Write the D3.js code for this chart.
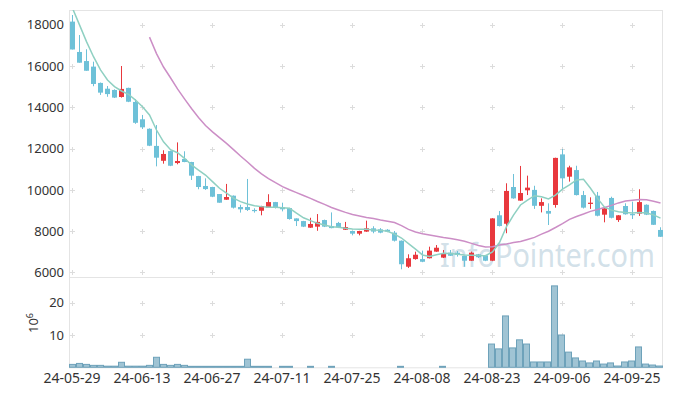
<!DOCTYPE html>
<html><head><meta charset="utf-8">
<script src="https://cdn.jsdelivr.net/npm/d3@7"></script>
<style>body{margin:0;background:#fff}svg{display:block}text{font-family:"Noto Sans",sans-serif}</style>
</head><body><svg id="c" width="673" height="396"></svg>
<script>
const dates = ["24-05-29","24-05-30","24-05-31","24-06-03","24-06-04","24-06-05","24-06-07","24-06-10","24-06-11","24-06-12",
"24-06-13","24-06-14","24-06-17","24-06-18","24-06-19","24-06-20","24-06-21","24-06-24","24-06-25","24-06-26",
"24-06-27","24-06-28","24-07-01","24-07-02","24-07-03","24-07-04","24-07-05","24-07-08","24-07-09","24-07-10",
"24-07-11","24-07-12","24-07-15","24-07-16","24-07-17","24-07-18","24-07-19","24-07-22","24-07-23","24-07-24",
"24-07-25","24-07-26","24-07-29","24-07-30","24-07-31","24-08-01","24-08-02","24-08-05","24-08-06","24-08-07",
"24-08-08","24-08-09","24-08-12","24-08-13","24-08-14","24-08-16","24-08-19","24-08-20","24-08-21","24-08-22",
"24-08-23","24-08-26","24-08-27","24-08-28","24-08-29","24-08-30","24-09-02","24-09-03","24-09-04","24-09-05",
"24-09-06","24-09-09","24-09-10","24-09-11","24-09-12","24-09-13","24-09-19","24-09-20","24-09-23","24-09-24",
"24-09-25","24-09-26","24-09-27","24-09-30","24-10-02"];
const open = [18150,16680,16240,15970,15180,14900,14840,14500,14940,14260,
13420,12960,12130,11410,11880,11300,11500,11350,10670,10190,
10140,9800,9525,9720,9170,9170,9030,8990,9140,9410,
9160,9120,8620,8490,8170,8220,8540,8250,8400,8070,
8010,7880,7980,8140,8090,8070,7930,7540,6280,6650,
6650,6690,7010,6720,6960,6960,6800,6570,6880,6830,
6570,8770,8360,10140,9480,9980,10000,9230,8980,9270,
11720,10640,10960,9750,9320,9720,8800,9610,8540,9220,
8830,8850,9280,8980,8060];
const high = [18470,17500,16810,16210,15200,15030,14870,16000,14950,14400,
13630,12980,13140,11920,11900,12300,11870,11360,10680,10560,
10150,9800,10290,9730,9280,10530,9110,9230,9790,9420,
9380,9130,8620,8500,8650,8830,8560,8910,8450,8450,
8020,8020,8510,8240,8150,8100,8010,7550,6880,7010,
7060,7250,7330,7090,7090,7040,6810,7010,6900,6850,
8630,8980,10320,10770,11160,10690,10200,9590,9350,11560,
11980,11170,11170,9950,9640,9900,9120,9670,8780,9350,
9430,10030,9300,9000,8190];
const low = [16800,16160,15770,15020,14600,14510,14450,14470,14250,13200,
12950,12120,11140,11270,11150,11240,11340,10480,10030,10000,
9650,9380,9520,9100,8900,8980,8900,8770,9130,9100,
8960,8560,8250,8200,8160,8020,8200,8140,8150,8060,
7800,7800,7970,7900,7900,7950,7500,6155,6220,6620,
6500,6680,7000,6700,6800,6770,6280,6560,6700,6550,
6550,8230,7900,9570,9470,9750,9080,8910,8300,9140,
10040,10400,9730,9100,9080,8720,8430,8620,8450,8800,
8590,8740,8780,8300,7720];
const close = [16800,16160,15770,15130,14710,14640,14470,14890,14270,13250,
13030,12140,11560,11740,11170,11400,11350,10690,10140,10040,
9670,9380,9655,9140,9060,9030,9000,9220,9410,9140,
9060,8590,8490,8220,8350,8450,8220,8150,8190,8200,
7880,8010,8140,7980,7930,7980,7540,6400,6690,6860,
6520,7060,7200,6930,6810,6850,6570,6960,6740,6570,
8620,8250,9950,9590,9850,10110,9230,9410,8850,11550,
10560,11090,9750,9140,9380,8750,9110,8650,8770,8820,
8800,9410,8800,8310,7730];
const volume = [0.9,1.2,0.9,0.6,0.6,0.35,0.35,1.55,0.35,0.35,
0.35,0.6,3.1,0.9,0.6,0.9,0.6,0.3,0.3,0.3,
0.3,0.3,0.3,0.3,0.3,2.5,0.3,0.3,0.3,0,
0.3,0.3,0,0,0.3,0,0,0.3,0,0,
0,0,0,0,0,0,0,0.3,0,0,
0,0,0,0.3,0,0,0,0,0,0,
7.2,5.7,15.9,6.0,8.5,7.2,1.65,1.65,1.65,25.2,
10.0,4.7,2.9,1.95,1.35,1.95,1.0,1.35,0.4,1.65,
1.95,6.3,1.0,0.7,0.4];
const ma5 = [18800,17990,17180,16450,15810,15320,15000,14790,14630,14350,
14030,13630,12900,12330,11950,11800,11530,11210,10960,10720,
10400,10080,9840,9600,9430,9320,9230,9190,9160,9160,
9140,9110,8870,8650,8510,8380,8300,8220,8190,8140,
8110,8090,8090,8060,8040,8000,7860,7670,7400,7130,
6850,6780,6860,6930,6920,6880,6850,6840,6820,6810,
7000,7450,8220,8780,9270,9510,9720,9670,9560,9750,
10040,10240,10480,10510,10080,9590,9160,9020,8940,8900,
8880,8910,8880,8790,8630];
const ma20 = [null,null,null,null,null,null,null,null,null,null,
null,17400,16600,15950,15430,14890,14410,13940,13510,13120,
12810,12530,12250,11950,11640,11350,11040,10780,10550,10350,
10160,10010,9870,9730,9590,9440,9300,9150,9030,8910,
8810,8740,8660,8610,8540,8480,8420,8270,8090,7960,
7880,7820,7760,7700,7650,7590,7510,7410,7310,7230,
7250,7330,7380,7450,7500,7600,7700,7860,8000,8180,
8370,8570,8710,8830,8960,9050,9150,9250,9370,9460,
9500,9540,9520,9450,9370];
const priceTicks = [6000,8000,10000,12000,14000,16000,18000];
const volTicks = [10,20];
const dateTicks = ["24-05-29","24-06-13","24-06-27","24-07-11","24-07-25","24-08-08","24-08-23","24-09-06","24-09-25"];

const L=69, R=663, T=10, PB=277, VB=367.3;
const UP="#e8383d", DOWN="#6ec1d8";
const svg = d3.select("#c");
const x = d3.scaleBand().domain(dates).range([L,R]).padding(0);
const cx = d => Math.round(x(d) + x.bandwidth()/2);
const y = d3.scaleLinear().domain([5782,18712]).range([PB,T]);
const yv = d3.scaleLinear().domain([0,27.95]).range([VB,PB]);

svg.append("defs").append("clipPath").attr("id","clip").append("rect")
  .attr("x",L).attr("y",T).attr("width",R-L).attr("height",PB-T);

// borders
svg.append("rect").attr("x",L+0.5).attr("y",T+0.5).attr("width",R-L-1).attr("height",VB-T)
  .attr("fill","none").attr("stroke","#e4e4e4");
svg.append("line").attr("x1",L).attr("x2",R).attr("y1",PB+0.5).attr("y2",PB+0.5).attr("stroke","#e4e4e4");

// grid plus markers
function plus(g, px, py){
  g.append("path").attr("d",`M${px-2.5},${py}H${px+2.5}M${px},${py-2.5}V${py+2.5}`)
   .attr("stroke","#dcdcdc").attr("stroke-width",1).attr("fill","none");
}
const grid = svg.append("g");
dateTicks.forEach(d=>{
  const px = cx(d)+0.5;
  priceTicks.forEach(v=>plus(grid, px, Math.round(y(v))+0.5));
  volTicks.forEach(v=>plus(grid, px, Math.round(yv(v))+0.5));
});

// watermark
svg.append("text").attr("transform","translate(440,267) scale(1,1.2)").attr("font-size",28)
  .attr("textLength",215).attr("lengthAdjust","spacingAndGlyphs")
  .attr("fill","#b9cfdd").attr("fill-opacity",0.65).text("InfoPointer.com");

const plot = svg.append("g").attr("clip-path","url(#clip)");
const idx = d3.range(dates.length);

// candles
plot.selectAll("line.w").data(idx).join("line")
  .attr("x1",i=>cx(dates[i])+0.5).attr("x2",i=>cx(dates[i])+0.5)
  .attr("y1",i=>y(high[i])).attr("y2",i=>y(low[i]))
  .attr("stroke",i=>close[i]>open[i]?UP:DOWN).attr("stroke-width",1);
plot.selectAll("rect.b").data(idx).join("rect")
  .attr("x",i=>cx(dates[i])-2).attr("width",5)
  .attr("y",i=>y(Math.max(open[i],close[i])))
  .attr("height",i=>Math.max(1.2, Math.abs(y(open[i])-y(close[i]))))
  .attr("fill",i=>close[i]>open[i]?UP:DOWN);

// moving averages
const line = arr => d3.line().defined(i=>arr[i]!=null).x(i=>cx(dates[i])+0.5).y(i=>y(arr[i])).curve(d3.curveLinear)(idx);
plot.append("path").attr("d",line(ma20)).attr("fill","none").attr("stroke","#cc8ec6").attr("stroke-width",1.5);
plot.append("path").attr("d",line(ma5)).attr("fill","none").attr("stroke","#8fd0c2").attr("stroke-width",1.5);

// volume
svg.append("g").selectAll("rect").data(idx.filter(i=>volume[i]>0)).join("rect")
  .attr("x",i=>Math.round(x(dates[i]))+0.5).attr("width",6)
  .attr("y",i=>yv(volume[i])).attr("height",i=>VB-yv(volume[i]))
  .attr("fill","#9bc1d2").attr("stroke","#6ea2ba").attr("stroke-width",1).attr("fill-opacity",0.95);

// axis labels
svg.append("g").selectAll("text").data(priceTicks).join("text")
  .attr("x",64).attr("y",v=>y(v)).attr("dy","0.36em").attr("text-anchor","end")
  .attr("font-size",13).attr("fill","#333").text(v=>v);
svg.append("g").selectAll("text").data(volTicks).join("text")
  .attr("x",64).attr("y",v=>yv(v)).attr("dy","0.36em").attr("text-anchor","end")
  .attr("font-size",13).attr("fill","#333").text(v=>v);
svg.append("g").selectAll("text").data(dateTicks).join("text")
  .attr("x",d=>cx(d)).attr("y",383).attr("text-anchor","middle")
  .attr("font-size",14).attr("fill","#333").text(d=>d);
const ul = svg.append("text").attr("transform","translate(38,333) rotate(-90)")
  .attr("font-size",13).attr("fill","#333");
ul.append("tspan").text("10");
ul.append("tspan").attr("dy",-5).attr("font-size",9).text("6");
</script></body></html>
